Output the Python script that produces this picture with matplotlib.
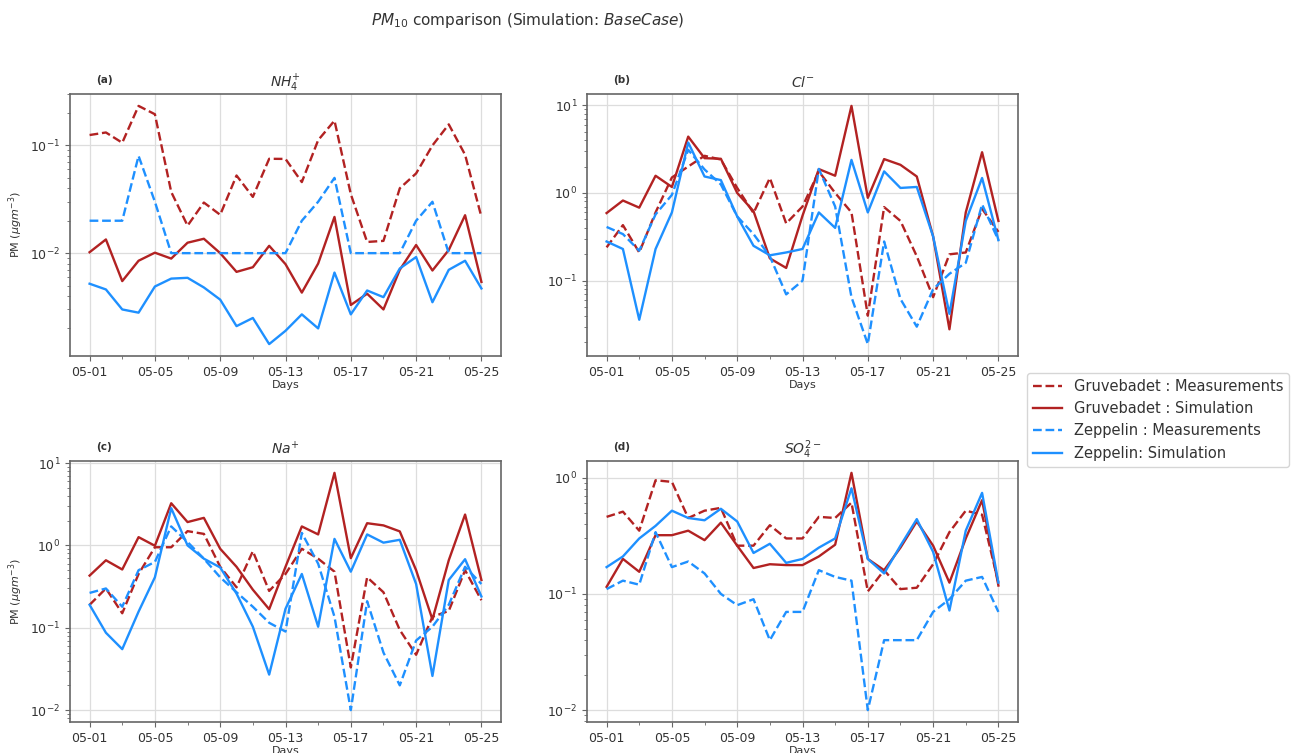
import matplotlib
matplotlib.use('Agg')
import matplotlib.pyplot as plt
import matplotlib.dates as mdates
import pandas as pd

TEXT = '#333333'
SPINE = '#666666'
GRID = '#dddddd'
RED = '#b22222'
BLUE = '#1e90ff'

dates = pd.date_range('2020-05-01', periods=25, freq='D')

# ---- NH4+ ----
nh4_gru_meas = [0.125, 0.132, 0.106, 0.233, 0.195, 0.037, 0.018, 0.0295, 0.0227, 0.0526,
                0.0333, 0.0752, 0.075, 0.0457, 0.112, 0.17, 0.0353, 0.0127, 0.013, 0.04,
                0.055, 0.1, 0.157, 0.082, 0.0217]
nh4_gru_sim = [0.0102, 0.0134, 0.0055, 0.0085, 0.0101, 0.0089, 0.0125, 0.0136, 0.01, 0.0067,
               0.0074, 0.0117, 0.0079, 0.0043, 0.008, 0.0217, 0.0033, 0.0042, 0.003, 0.007,
               0.0119, 0.0069, 0.0107, 0.0225, 0.0054]
nh4_zep_meas = [0.02, 0.02, 0.02, 0.08, 0.03, 0.01, 0.01, 0.01, 0.01, 0.01,
                0.01, 0.01, 0.01, 0.02, 0.03, 0.05, 0.01, 0.01, 0.01, 0.01,
                0.02, 0.03, 0.01, 0.01, 0.01]
nh4_zep_sim = [0.0052, 0.0046, 0.003, 0.0028, 0.0049, 0.0058, 0.0059, 0.0048, 0.0037, 0.0021,
               0.0025, 0.00143, 0.0019, 0.0027, 0.002, 0.0066, 0.0027, 0.0045, 0.0039, 0.0072,
               0.0092, 0.0035, 0.007, 0.0085, 0.0047]

# ---- Cl- ----
cl_gru_meas = [0.24, 0.43, 0.21, 0.6, 1.5, 2.0, 2.65, 2.4, 1.14, 0.59,
               1.48, 0.45, 0.7, 1.76, 1.0, 0.6, 0.04, 0.69, 0.48, 0.19,
               0.065, 0.2, 0.21, 0.66, 0.36]
cl_gru_sim = [0.59, 0.82, 0.68, 1.57, 1.17, 4.38, 2.49, 2.45, 1.0, 0.62,
              0.18, 0.14, 0.55, 1.87, 1.57, 9.8, 0.88, 2.43, 2.09, 1.54,
              0.32, 0.028, 0.6, 2.91, 0.48]
cl_zep_meas = [0.41, 0.34, 0.22, 0.57, 0.95, 3.1, 1.85, 1.25, 0.54, 0.34,
               0.19, 0.07, 0.1, 1.88, 0.7, 0.065, 0.019, 0.28, 0.062, 0.03,
               0.08, 0.12, 0.16, 0.74, 0.29]
cl_zep_sim = [0.28, 0.23, 0.036, 0.23, 0.6, 3.75, 1.54, 1.4, 0.54, 0.25,
              0.195, 0.21, 0.23, 0.6, 0.4, 2.38, 0.6, 1.76, 1.14, 1.17,
              0.32, 0.042, 0.48, 1.48, 0.29]

# ---- Na+ ----
na_gru_meas = [0.19, 0.3, 0.15, 0.45, 0.95, 0.95, 1.49, 1.38, 0.55, 0.31,
               0.85, 0.28, 0.45, 0.91, 0.69, 0.48, 0.033, 0.41, 0.27, 0.094,
               0.047, 0.136, 0.16, 0.5, 0.216]
na_gru_sim = [0.43, 0.66, 0.51, 1.26, 0.99, 3.25, 1.92, 2.16, 0.91, 0.55,
              0.29, 0.168, 0.55, 1.7, 1.36, 7.6, 0.7, 1.86, 1.75, 1.48,
              0.5, 0.126, 0.66, 2.37, 0.38]
na_zep_meas = [0.265, 0.3, 0.18, 0.5, 0.63, 1.7, 1.1, 0.69, 0.41, 0.27,
               0.18, 0.115, 0.09, 1.42, 0.6, 0.136, 0.01, 0.21, 0.05, 0.02,
               0.07, 0.103, 0.19, 0.55, 0.34]
na_zep_sim = [0.19, 0.087, 0.055, 0.157, 0.41, 2.83, 1.0, 0.69, 0.54, 0.26,
              0.103, 0.027, 0.17, 0.45, 0.103, 1.2, 0.48, 1.36, 1.08, 1.17,
              0.34, 0.026, 0.38, 0.68, 0.24]

# ---- SO4 2- ----
so4_gru_meas = [0.46, 0.51, 0.35, 0.95, 0.92, 0.45, 0.52, 0.55, 0.26, 0.26,
                0.39, 0.3, 0.3, 0.46, 0.45, 0.61, 0.105, 0.16, 0.11, 0.113,
                0.18, 0.34, 0.52, 0.48, 0.125]
so4_gru_sim = [0.115, 0.2, 0.155, 0.32, 0.32, 0.35, 0.29, 0.41, 0.26, 0.167,
               0.18, 0.177, 0.177, 0.21, 0.265, 1.1, 0.2, 0.16, 0.25, 0.42,
               0.26, 0.125, 0.3, 0.64, 0.118]
so4_zep_meas = [0.11, 0.13, 0.12, 0.34, 0.17, 0.19, 0.15, 0.1, 0.08, 0.09,
                0.04, 0.07, 0.07, 0.16, 0.14, 0.13, 0.01, 0.04, 0.04, 0.04,
                0.07, 0.09, 0.13, 0.14, 0.07]
so4_zep_sim = [0.17, 0.21, 0.3, 0.385, 0.52, 0.45, 0.43, 0.54, 0.42, 0.225,
               0.27, 0.185, 0.2, 0.25, 0.3, 0.81, 0.2, 0.15, 0.26, 0.44,
               0.23, 0.072, 0.35, 0.74, 0.125]

panels = [
    ('(a)', '$NH_4^{+}$', nh4_gru_meas, nh4_gru_sim, nh4_zep_meas, nh4_zep_sim),
    ('(b)', '$Cl^{-}$', cl_gru_meas, cl_gru_sim, cl_zep_meas, cl_zep_sim),
    ('(c)', '$Na^{+}$', na_gru_meas, na_gru_sim, na_zep_meas, na_zep_sim),
    ('(d)', '$SO_4^{2-}$', so4_gru_meas, so4_gru_sim, so4_zep_meas, so4_zep_sim),
]

W, H = 1296, 753
boxes = [(70, 94, 501, 356), (587, 94, 1018, 356),
         (70, 461, 501, 722), (587, 461, 1018, 722)]

fig = plt.figure(figsize=(W / 100, H / 100), dpi=100)
fig.patch.set_facecolor('white')

for i, (tag, title, gm, gs, zm, zs) in enumerate(panels):
    l, t, r, b = boxes[i]
    ax = fig.add_axes([l / W, 1 - b / H, (r - l) / W, (b - t) / H])
    ax.plot(dates, gm, color=RED, ls='--', lw=1.7, label='Gruvebadet : Measurements')
    ax.plot(dates, gs, color=RED, ls='-', lw=1.7, label='Gruvebadet : Simulation')
    ax.plot(dates, zm, color=BLUE, ls='--', lw=1.7, label='Zeppelin : Measurements')
    ax.plot(dates, zs, color=BLUE, ls='-', lw=1.7, label='Zeppelin: Simulation')
    ax.set_yscale('log')
    ax.xaxis.set_major_locator(mdates.DayLocator(bymonthday=[1, 5, 9, 13, 17, 21, 25]))
    ax.xaxis.set_minor_locator(mdates.DayLocator(bymonthday=[3, 7, 11, 15, 19, 23]))
    ax.xaxis.set_major_formatter(mdates.DateFormatter('%m-%d'))
    ax.grid(True, which='major', color=GRID, linewidth=0.9)
    ax.set_axisbelow(True)
    for s in ax.spines.values():
        s.set_color(SPINE)
        s.set_linewidth(1.2)
    ax.tick_params(axis='both', which='both', colors=SPINE, labelcolor=TEXT, labelsize=9)
    ax.set_title(title, fontsize=10, color=TEXT, pad=5)
    ax.text(0.06, 1.055, tag, transform=ax.transAxes, fontsize=7.5, fontweight='bold',
            color=TEXT, ha='left', va='center')
    ax.set_xlabel('Days', fontsize=8, color=TEXT, labelpad=1)
    if i % 2 == 0:
        ax.set_ylabel(r'PM ($\mu g m^{-3}$)', fontsize=8, color=TEXT)
    if i == 0:
        handles, labels = ax.get_legend_handles_labels()

leg = fig.legend(handles, labels, loc='upper left', bbox_to_anchor=(1027 / W, 1 - 373 / H),
                 borderaxespad=0, fontsize=10.5, frameon=True, handlelength=2.0)
for txt in leg.get_texts():
    txt.set_color(TEXT)

fig.text(0.407, 1 - 20 / H, '$PM_{10}$ comparison (Simulation: $BaseCase$)',
         ha='center', va='center', fontsize=11, color=TEXT)

fig.savefig('out.png', dpi=100, facecolor='white')
